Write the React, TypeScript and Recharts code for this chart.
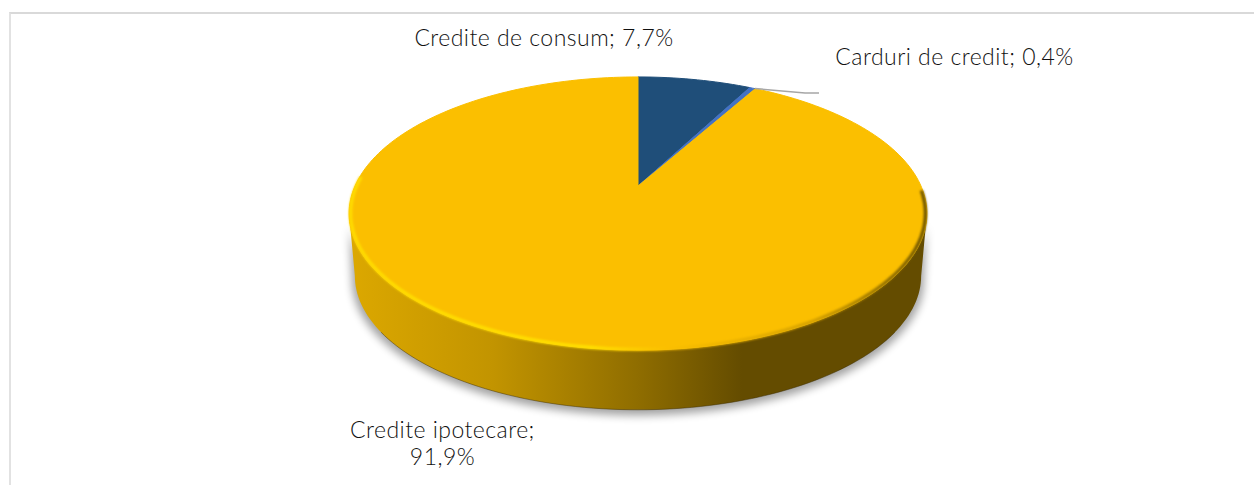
import React from "react";
import { PieChart, Pie } from "recharts";

const categories = ["Credite de consum", "Carduri de credit", "Credite ipotecare"];
const shares = [7.7, 0.4, 91.9];
const sliceColors = ["#1F4E79", "#4472C4", "#FBBF00"];

const rows = categories.map((name, i) => ({ name, value: shares[i], fill: sliceColors[i] }));

// 3D look of the disc: a perspective projection of the flat pie
const TILT = 0.463; // vertical squash relative to the radius
const PERSPECTIVE = 0.2015;
const DEPTH_SCALE = 0.98;
const DEPTH = 63;

const RAD = Math.PI / 180;
const SIDE_ANGLE = Math.asin(PERSPECTIVE) / RAD; // where the projected disc is widest
const FRONT_FROM = -SIDE_ANGLE;
const FRONT_TO = -180 + SIDE_ANGLE;

type Pt = [number, number];

// a = recharts angle (90 = top, decreasing clockwise)
function project(cx: number, cy: number, r: number, a: number, scale = 1, dy = 0): Pt {
  const u = Math.cos(a * RAD);
  const v = Math.sin(a * RAD);
  const w = 1 + PERSPECTIVE * v;
  return [cx + (scale * r * u) / w, cy + dy - (scale * r * TILT * v) / w];
}

function arc(cx: number, cy: number, r: number, from: number, to: number, scale = 1, dy = 0): Pt[] {
  const n = Math.max(2, Math.ceil(Math.abs(to - from) / 1.5));
  const out: Pt[] = [];
  for (let i = 0; i <= n; i++) out.push(project(cx, cy, r, from + ((to - from) * i) / n, scale, dy));
  return out;
}

const toPath = (pts: Pt[], close = true) =>
  "M" + pts.map((p) => `${p[0].toFixed(2)} ${p[1].toFixed(2)}`).join("L") + (close ? "Z" : "");

// front part of a slice's outer edge, in recharts angles (null when it faces away)
function frontSpan(p: any): [number, number] | null {
  const from = Math.min(p.startAngle, FRONT_FROM);
  const to = Math.max(p.endAngle, FRONT_TO);
  return from > to ? [from, to] : null;
}

const TopFace = (p: any) => {
  const pts = arc(p.cx, p.cy, p.outerRadius, p.startAngle, p.endAngle);
  return <path d={toPath([[p.cx, p.cy], ...pts])} fill={p.fill} stroke={p.fill} strokeWidth={1} />;
};

const Wall = (p: any) => {
  const span = frontSpan(p);
  if (!span) return <g />;
  const top = arc(p.cx, p.cy, p.outerRadius, span[0], span[1]);
  const low = arc(p.cx, p.cy, p.outerRadius, span[1], span[0], DEPTH_SCALE, DEPTH);
  const edge = arc(p.cx, p.cy, p.outerRadius, -35, -145, DEPTH_SCALE, DEPTH);
  return (
    <g>
      <path d={toPath([...top, ...low])} fill="url(#wallShade)" stroke="none" />
      <path d={toPath(edge, false)} fill="none" stroke="#3A2A00" strokeOpacity={0.5} strokeWidth={0.9} />
    </g>
  );
};

const Shadow = (p: any) => {
  const span = frontSpan(p);
  if (!span) return <g />;
  const top = arc(p.cx, p.cy, p.outerRadius, span[0], span[1], 1, 4);
  const low = arc(p.cx, p.cy, p.outerRadius, span[1], span[0], DEPTH_SCALE + 0.01, DEPTH + 4);
  return <path d={toPath([...top, ...low])} fill="#000" opacity={0.36} filter="url(#softShadow)" />;
};

const Rim = (p: any) => {
  const span = frontSpan(p);
  if (!span) return <g />;
  const pts = arc(p.cx, p.cy, p.outerRadius - 1.5, -2, -184);
  return <path d={toPath(pts, false)} fill="none" stroke="url(#rimShade)" strokeWidth={3.4} filter="url(#softRim)" />;
};

const labelBoxes: Record<string, { x: number; lines: [number, string][] }> = {
  "Credite de consum": { x: 544, lines: [[46, "Credite de consum; 7,7%"]] },
  "Carduri de credit": { x: 954.5, lines: [[65, "Carduri de credit; 0,4%"]] },
  "Credite ipotecare": { x: 442.5, lines: [[438, "Credite ipotecare;"], [465, "91,9%"]] },
};

const renderLabel = (p: any) => {
  const box = labelBoxes[p.name];
  const leader = p.name === "Carduri de credit";
  return (
    <g>
      {leader && (
        <path d="M755 88.5L805 93L819 93" fill="none" stroke="#A6A6A6" strokeWidth={1.5} />
      )}
      {box.lines.map(([y, t]) => (
        <text
          key={t}
          x={box.x}
          y={y}
          textAnchor="middle"
          fontFamily="Lato, sans-serif"
          fontSize={23}
          fontWeight={300}
          letterSpacing={0.47}
          fill="#111111"
        >
          {t}
        </text>
      ))}
    </g>
  );
};

const pieProps = {
  data: rows,
  dataKey: "value",
  nameKey: "name",
  cx: 638,
  cy: 186,
  outerRadius: 283,
  startAngle: 90,
  endAngle: -270,
  paddingAngle: 0,
  stroke: "none",
  isAnimationActive: false,
  legendType: "none" as const,
};

export default function App() {
  return (
    <div style={{ position: "absolute", left: 0, top: 0, width: 1254, height: 485, background: "#fff", overflow: "hidden" }}>
      <div
        style={{
          position: "absolute",
          left: 9,
          top: 12,
          right: 0,
          bottom: 0,
          borderLeft: "2px solid #E2E2E2",
          borderTop: "2px solid #D9D9D9",
        }}
      />
      <div style={{ position: "absolute", left: 0, top: 0 }}>
        <PieChart width={1254} height={485} margin={{ top: 0, right: 0, bottom: 0, left: 0 }}>
          <defs>
            <linearGradient id="wallShade" gradientUnits="userSpaceOnUse" x1={349} x2={927} y1={0} y2={0}>
              <stop offset="0" stopColor="#DCA800" />
              <stop offset="0.25" stopColor="#C29400" />
              <stop offset="0.5" stopColor="#8F6D00" />
              <stop offset="0.68" stopColor="#644C00" />
              <stop offset="1" stopColor="#644C00" />
            </linearGradient>
            <linearGradient id="rimShade" gradientUnits="userSpaceOnUse" x1={349} x2={927} y1={0} y2={0}>
              <stop offset="0" stopColor="#FFDC00" />
              <stop offset="0.42" stopColor="#FFE000" />
              <stop offset="0.55" stopColor="#FBBF00" />
              <stop offset="0.8" stopColor="#D6A200" />
              <stop offset="1" stopColor="#6F5500" />
            </linearGradient>
            <filter id="softShadow" x="-10%" y="-20%" width="120%" height="140%">
              <feGaussianBlur stdDeviation="4" />
            </filter>
            <filter id="softRim" x="-5%" y="-10%" width="110%" height="120%">
              <feGaussianBlur stdDeviation="1.3" />
            </filter>
          </defs>
          <Pie {...pieProps} shape={Shadow} />
          <Pie {...pieProps} shape={Wall} />
          <Pie {...pieProps} shape={TopFace} />
          <Pie {...pieProps} shape={Rim} label={renderLabel} labelLine={false} />
        </PieChart>
      </div>
    </div>
  );
}
